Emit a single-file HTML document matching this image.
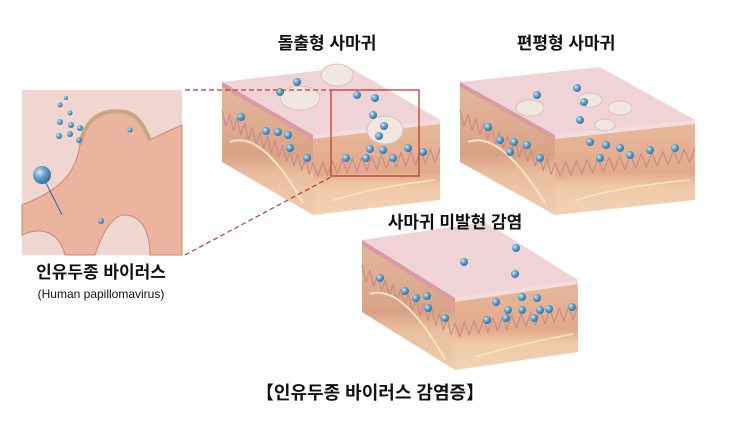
<!DOCTYPE html>
<html><head><meta charset="utf-8">
<style>
html,body{margin:0;padding:0;background:#fff;}
svg{display:block}
text{font-family:"Liberation Sans","Noto Sans CJK KR",sans-serif;}
</style></head>
<body>
<svg id="s" width="743" height="421" viewBox="0 0 743 421" xmlns="http://www.w3.org/2000/svg">
<defs>
<linearGradient id="side" x1="0" y1="0" x2="0" y2="1">
<stop offset="0" stop-color="#e9b99c"/><stop offset="0.55" stop-color="#e2a98c"/><stop offset="0.7" stop-color="#f0c9a8"/><stop offset="1" stop-color="#f2d2b4"/></linearGradient>
<linearGradient id="side2" x1="0" y1="0" x2="0" y2="1">
<stop offset="0" stop-color="#e4b89e"/><stop offset="0.55" stop-color="#d9a286"/><stop offset="0.7" stop-color="#e9bf9e"/><stop offset="1" stop-color="#efcdb0"/></linearGradient>
<radialGradient id="ball" cx="0.35" cy="0.35" r="0.7"><stop offset="0" stop-color="#cfe6f3"/><stop offset="0.5" stop-color="#5c9fc8"/><stop offset="1" stop-color="#2f6f99"/></radialGradient>
</defs>
<g id="g"></g>
<!-- inset -->
<rect x="22" y="90" width="160" height="165" fill="#efd6d0"/>
<path d="M22,205 C60,190 75,175 80,145 C85,120 100,110 125,112 C140,115 145,130 150,140 C160,135 170,130 182,125 L182,255 L150,255 C150,230 140,215 125,215 C110,215 100,240 95,255 L65,255 C60,235 45,225 22,235 Z" fill="#eab49e" stroke="#c98a72" stroke-width="1"/>
<path d="M80,145 C85,120 100,108 125,112 C140,115 145,130 150,140" fill="none" stroke="#c9a77e" stroke-width="4"/>
<g fill="url(#ball)"><circle cx="66" cy="98" r="2"/><circle cx="60" cy="105" r="2.5"/><circle cx="70" cy="113" r="2.5"/><circle cx="60" cy="122" r="3"/><circle cx="71" cy="125" r="3"/><circle cx="59" cy="136" r="3"/><circle cx="70" cy="134" r="3"/><circle cx="80" cy="128" r="3"/><circle cx="79" cy="140" r="3"/><circle cx="130" cy="130" r="2.5"/><circle cx="101" cy="221" r="3"/></g>
<circle cx="42" cy="175" r="9" fill="url(#ball)"/>
<line x1="46" y1="183" x2="62" y2="215" stroke="#3a5fa8" stroke-width="1"/>
<rect x="331" y="90" width="88" height="86" fill="none" stroke="#b5412c" stroke-width="1.3"/>
<line x1="185" y1="90" x2="331" y2="90" stroke="#b5412c" stroke-width="1.2" stroke-dasharray="5,3"/>
<line x1="185" y1="255" x2="331" y2="177" stroke="#b5412c" stroke-width="1.2" stroke-dasharray="5,3"/>
<text x="327" y="49" font-size="17" font-weight="bold" text-anchor="middle" fill="#111">돌출형 사마귀</text>
<text x="566" y="49" font-size="17" font-weight="bold" text-anchor="middle" fill="#111">편평형 사마귀</text>
<text x="455" y="228" font-size="17" font-weight="bold" text-anchor="middle" fill="#111">사마귀 미발현 감염</text>
<text x="101" y="278" font-size="17" font-weight="bold" text-anchor="middle" fill="#111">인유두종 바이러스</text>
<text x="101" y="298" font-size="12" text-anchor="middle" fill="#111">(Human papillomavirus)</text>
<text x="370" y="399" font-size="18" font-weight="bold" text-anchor="middle" fill="#111">【인유두종 바이러스 감염증】</text>
</svg>
<script>
var g=document.getElementById('g'),h='';
function P(a){return a.map(function(p){return p[0]+','+p[1]}).join(' ');}
function block(A,D,C,t,balls,bumps){
  var B=[A[0]+C[0]-D[0],A[1]+C[1]-D[1]];
  var Ab=[A[0],A[1]+t],Db=[D[0],D[1]+t],Cb=[C[0],C[1]+t];
  h+='<polygon points="'+P([A,D,Db,Ab])+'" fill="url(#side2)"/>';
  h+='<polygon points="'+P([D,C,Cb,Db])+'" fill="url(#side)"/>';
  h+='<polygon points="'+P([A,B,C,D])+'" fill="#efd3d6"/>';
  h+='<polygon points="'+P([A,D,[D[0],D[1]+5],[A[0],A[1]+5]])+'" fill="#d99aa3"/>';
  h+='<polygon points="'+P([D,C,[C[0],C[1]+4],[D[0],D[1]+4]])+'" fill="#f3dcdc"/>';
  var s='';for(var i=0;i<=24;i++){var f=i/24;var x=A[0]+(D[0]-A[0])*f,y=A[1]+(D[1]-A[1])*f+t*0.35+(i%2?14:0);s+=(i?'L':'M')+x+','+y;}
  for(var i=0;i<=26;i++){var f=i/26;var x=D[0]+(C[0]-D[0])*f,y=D[1]+(C[1]-D[1])*f+t*0.35+(i%2?14:0);s+='L'+x+','+y;}
  h+='<path d="'+s+'" fill="none" stroke="#c98c86" stroke-width="1.2" stroke-linejoin="round"/>';
  h+='<path d="M'+(A[0]+8)+','+(A[1]+t*0.75)+' Q'+(A[0]+40)+','+(A[1]+t*0.6)+' '+(D[0]-10)+','+(D[1]+t*0.85)+'" fill="none" stroke="#f8e6c0" stroke-width="2"/>';
  h+='<path d="M'+(D[0]+20)+','+(D[1]+t*0.82)+' Q'+(D[0]+60)+','+(D[1]+t*0.65)+' '+(C[0]-5)+','+(C[1]+t*0.75)+'" fill="none" stroke="#f8e6c0" stroke-width="1.5"/>';
  (bumps||[]).forEach(function(b){h+='<ellipse cx="'+b[0]+'" cy="'+b[1]+'" rx="'+b[2]+'" ry="'+b[3]+'" fill="#f1e6e0" stroke="#d9c2b6"/>';});
  balls.forEach(function(b){h+='<circle cx="'+b[0]+'" cy="'+b[1]+'" r="4" fill="url(#ball)"/>';});
}
block([222,82],[313,135],[440,120],80,
 [[297,82],[280,92],[241,117],[266,131],[278,132],[288,135],[290,148],[307,158],[357,95],[375,98],[373,115],[384,126],[379,136],[370,149],[383,150],[366,158],[346,158],[393,158],[408,148],[423,152]],
 [[300,98,20,12],[337,75,16,11],[385,130,18,14]]);
block([460,82],[555,135],[695,120],80,
 [[537,95],[577,88],[584,102],[580,120],[488,127],[500,140],[514,142],[527,145],[510,152],[540,158],[590,142],[606,145],[620,148],[600,158],[630,155],[650,150],[675,148]],
 [[530,108,14,8],[590,100,12,7],[620,108,12,7],[605,125,10,6]]);
block([362,240],[455,298],[578,280],72,
 [[464,262],[516,248],[515,274],[380,278],[405,291],[416,298],[427,296],[428,308],[445,318],[496,302],[522,297],[537,298],[508,310],[522,310],[540,310],[549,309],[572,307],[487,320],[506,318],[534,318]]);
g.innerHTML=h;
</script>
</body></html>
